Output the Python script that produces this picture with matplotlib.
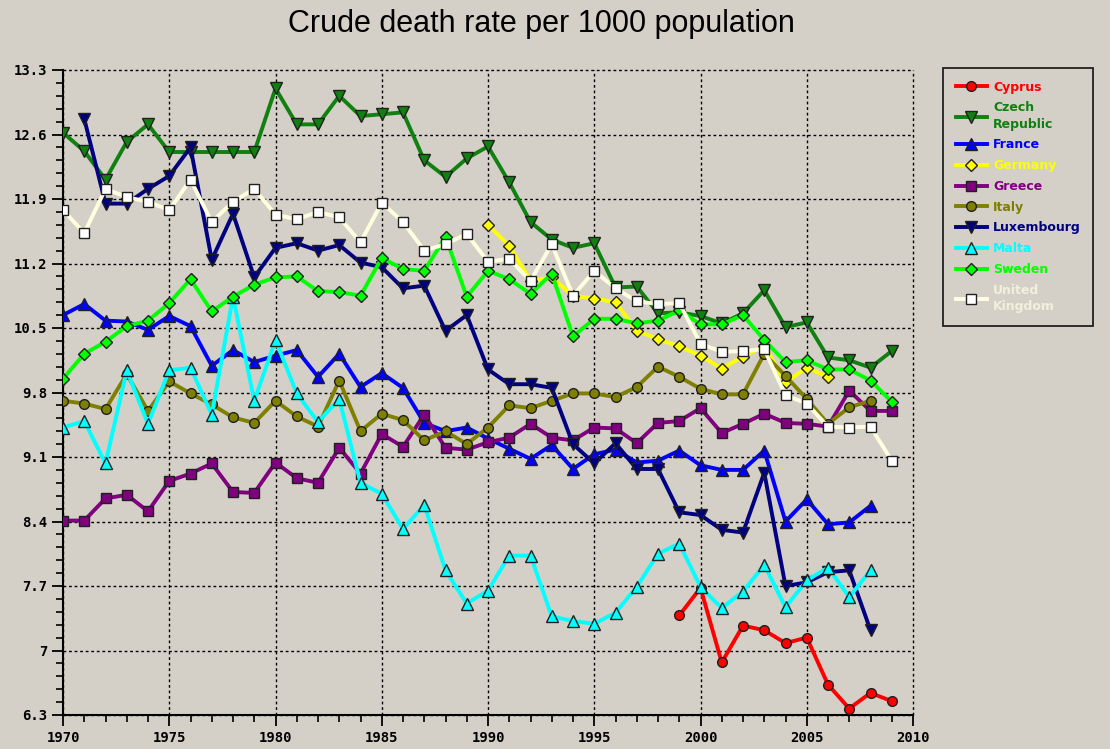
import matplotlib
matplotlib.use("Agg")
import matplotlib.pyplot as plt
from matplotlib.ticker import MultipleLocator, FixedLocator

# ---- data (crude death rate per 1000 population) ----
cyprus_years = list(range(1999, 2010))
cyprus = [7.38, 7.68, 6.87, 7.27, 7.22, 7.08, 7.14, 6.63, 6.37, 6.54, 6.45]

czech_years = list(range(1970, 2010))
czech = [12.62, 12.42, 12.11, 12.52, 12.71, 12.41, 12.41, 12.41, 12.41, 12.41,
         13.10, 12.71, 12.71, 13.02, 12.80, 12.82, 12.84, 12.32, 12.14, 12.34,
         12.47, 12.08, 11.65, 11.46, 11.37, 11.42, 10.94, 10.95, 10.66, 10.67,
         10.63, 10.55, 10.66, 10.91, 10.51, 10.56, 10.18, 10.15, 10.07, 10.25]

france_years = list(range(1970, 2009))
france = [10.64, 10.76, 10.58, 10.57, 10.48, 10.63, 10.52, 10.09, 10.26, 10.13,
          10.20, 10.26, 9.97, 10.22, 9.86, 10.01, 9.85, 9.47, 9.38, 9.42,
          9.30, 9.19, 9.08, 9.23, 8.97, 9.13, 9.18, 9.04, 9.06, 9.17,
          9.01, 8.96, 8.96, 9.17, 8.40, 8.64, 8.37, 8.39, 8.57]

germany_years = list(range(1990, 2007))
germany = [11.62, 11.39, 11.01, 11.05, 10.85, 10.82, 10.78, 10.47, 10.38, 10.30,
           10.20, 10.06, 10.19, 10.31, 9.91, 10.07, 9.97]

greece_years = list(range(1970, 2010))
greece = [8.41, 8.41, 8.65, 8.69, 8.51, 8.84, 8.92, 9.03, 8.72, 8.71,
          9.04, 8.87, 8.82, 9.20, 8.92, 9.35, 9.21, 9.56, 9.20, 9.18,
          9.26, 9.31, 9.46, 9.31, 9.28, 9.42, 9.41, 9.25, 9.47, 9.49,
          9.63, 9.36, 9.46, 9.57, 9.47, 9.46, 9.43, 9.82, 9.60, 9.60]

italy_years = list(range(1970, 2009))
italy = [9.71, 9.68, 9.62, 10.00, 9.60, 9.92, 9.79, 9.67, 9.53, 9.47,
         9.71, 9.54, 9.43, 9.93, 9.38, 9.57, 9.50, 9.28, 9.38, 9.24,
         9.42, 9.66, 9.63, 9.71, 9.79, 9.79, 9.75, 9.86, 10.08, 9.97,
         9.84, 9.78, 9.78, 10.22, 9.98, 9.73, 9.46, 9.64, 9.71]

lux_years = list(range(1971, 2009))
luxembourg = [12.77, 11.85, 11.85, 12.01, 12.15, 12.46, 11.24, 11.74, 11.05,
              11.37, 11.42, 11.34, 11.40, 11.21, 11.16, 10.93, 10.96, 10.47, 10.64,
              10.05, 9.89, 9.89, 9.85, 9.24, 9.03, 9.25, 8.97, 8.97, 8.50,
              8.47, 8.31, 8.28, 8.93, 7.70, 7.74, 7.85, 7.87, 7.22]

malta_years = list(range(1970, 2009))
malta = [9.42, 9.49, 9.03, 10.04, 9.46, 10.04, 10.07, 9.56, 10.84, 9.71,
         10.37, 9.79, 9.48, 9.73, 8.82, 8.70, 8.32, 8.58, 7.87, 7.51,
         7.65, 8.03, 8.03, 7.37, 7.32, 7.29, 7.41, 7.69, 8.05, 8.16,
         7.69, 7.46, 7.64, 7.93, 7.47, 7.76, 7.90, 7.58, 7.87]

sweden_years = list(range(1970, 2010))
sweden = [9.95, 10.22, 10.35, 10.52, 10.58, 10.77, 11.03, 10.68, 10.84, 10.97,
          11.05, 11.06, 10.90, 10.89, 10.85, 11.26, 11.14, 11.12, 11.49, 10.84,
          11.12, 11.03, 10.87, 11.09, 10.41, 10.60, 10.60, 10.55, 10.58, 10.69,
          10.54, 10.54, 10.64, 10.37, 10.13, 10.15, 10.05, 10.05, 9.93, 9.70]

uk_years = list(range(1970, 2010))
uk = [11.78, 11.53, 12.01, 11.92, 11.87, 11.78, 12.11, 11.65, 11.87, 12.01,
      11.73, 11.68, 11.76, 11.70, 11.43, 11.86, 11.65, 11.34, 11.41, 11.52,
      11.22, 11.25, 11.01, 11.41, 10.85, 11.12, 10.93, 10.79, 10.76, 10.77,
      10.33, 10.24, 10.25, 10.27, 9.77, 9.68, 9.43, 9.42, 9.43, 9.06]

y_ticks = [6.3, 7.0, 7.7, 8.4, 9.1, 9.8, 10.5, 11.2, 11.9, 12.6, 13.3]
y_tick_labels = ["6.3", "7", "7.7", "8.4", "9.1", "9.8", "10.5", "11.2", "11.9", "12.6", "13.3"]

# label, years, values, line colour, marker, text colour, marker size
series = [
    ("Cyprus", cyprus_years, cyprus, "#ff0000", "o", "#ff0000", 7),
    ("Czech\nRepublic", czech_years, czech, "#108010", "v", "#108010", 9),
    ("France", france_years, france, "#0000ff", "^", "#0000ff", 9),
    ("Germany", germany_years, germany, "#ffff00", "D", "#ffff00", 6),
    ("Greece", greece_years, greece, "#800080", "s", "#800080", 7),
    ("Italy", italy_years, italy, "#808000", "o", "#808000", 7),
    ("Luxembourg", lux_years, luxembourg, "#000080", "v", "#000080", 9),
    ("Malta", malta_years, malta, "#00ffff", "^", "#00ffff", 9),
    ("Sweden", sweden_years, sweden, "#00ff00", "D", "#00ff00", 6),
    ("United\nKingdom", uk_years, uk, "#ffffe0", "s", "#f0f0dc", 7),
]

BG = "#d4d0c8"

fig = plt.figure(figsize=(11.1, 7.49), dpi=100)
fig.patch.set_facecolor(BG)
ax = fig.add_axes([63 / 1110, 1 - 715 / 749, 850 / 1110, 645 / 749])
ax.set_facecolor(BG)

handles = []
for i, (label, yrs, vals, col, mk, tcol, ms) in enumerate(series):
    face = "#ffffff" if label.startswith("United") else col
    ln, = ax.plot(yrs, vals, color=col, linewidth=2.8, marker=mk, markersize=ms,
                  markerfacecolor=face, markeredgecolor="#202020", markeredgewidth=1.0,
                  label=label, zorder=3 + i, solid_joinstyle="round")
    handles.append(ln)

ax.set_xlim(1970, 2010)
ax.set_ylim(6.3, 13.3)
ax.xaxis.set_major_locator(MultipleLocator(5))
ax.xaxis.set_minor_locator(MultipleLocator(1))
ax.yaxis.set_major_locator(FixedLocator(y_ticks))
ax.yaxis.set_minor_locator(MultipleLocator(0.14))
ax.set_yticklabels(y_tick_labels)

ax.grid(True, which="major", color="black", linestyle=(0, (2, 2)), linewidth=1.0, zorder=1)
ax.set_axisbelow(True)
for g in ax.get_xgridlines() + ax.get_ygridlines():
    g.set_clip_on(False)

ax.spines["top"].set_visible(False)
ax.spines["right"].set_visible(False)
ax.spines["left"].set_linewidth(1.5)
ax.spines["bottom"].set_linewidth(1.5)

ax.tick_params(which="major", direction="out", length=8, width=1.3, colors="black")
ax.tick_params(which="minor", direction="out", length=5, width=1.2, colors="black")
for lab in ax.get_xticklabels() + ax.get_yticklabels():
    lab.set_fontfamily("DejaVu Sans Mono")
    lab.set_fontweight("bold")
    lab.set_fontsize(10)

fig.text(541 / 1110, 1 - 24 / 749, "Crude death rate per 1000 population",
         ha="center", va="center", fontsize=22, family="Liberation Sans", color="black")

leg = fig.legend(handles=handles, loc="upper left",
                 bbox_to_anchor=(943 / 1110, 1 - 68 / 749), fancybox=False,
                 facecolor=BG, edgecolor="#202020", framealpha=1.0,
                 prop={"weight": "bold", "size": 9}, handlelength=2.5,
                 labelspacing=0.62, borderpad=1.0, handletextpad=0.5,
                 borderaxespad=0.0)
leg.get_frame().set_linewidth(1.3)
for txt, s in zip(leg.get_texts(), series):
    txt.set_color(s[5])
    txt.set_linespacing(1.35)

fig.savefig("out.png", dpi=100, facecolor=BG)
